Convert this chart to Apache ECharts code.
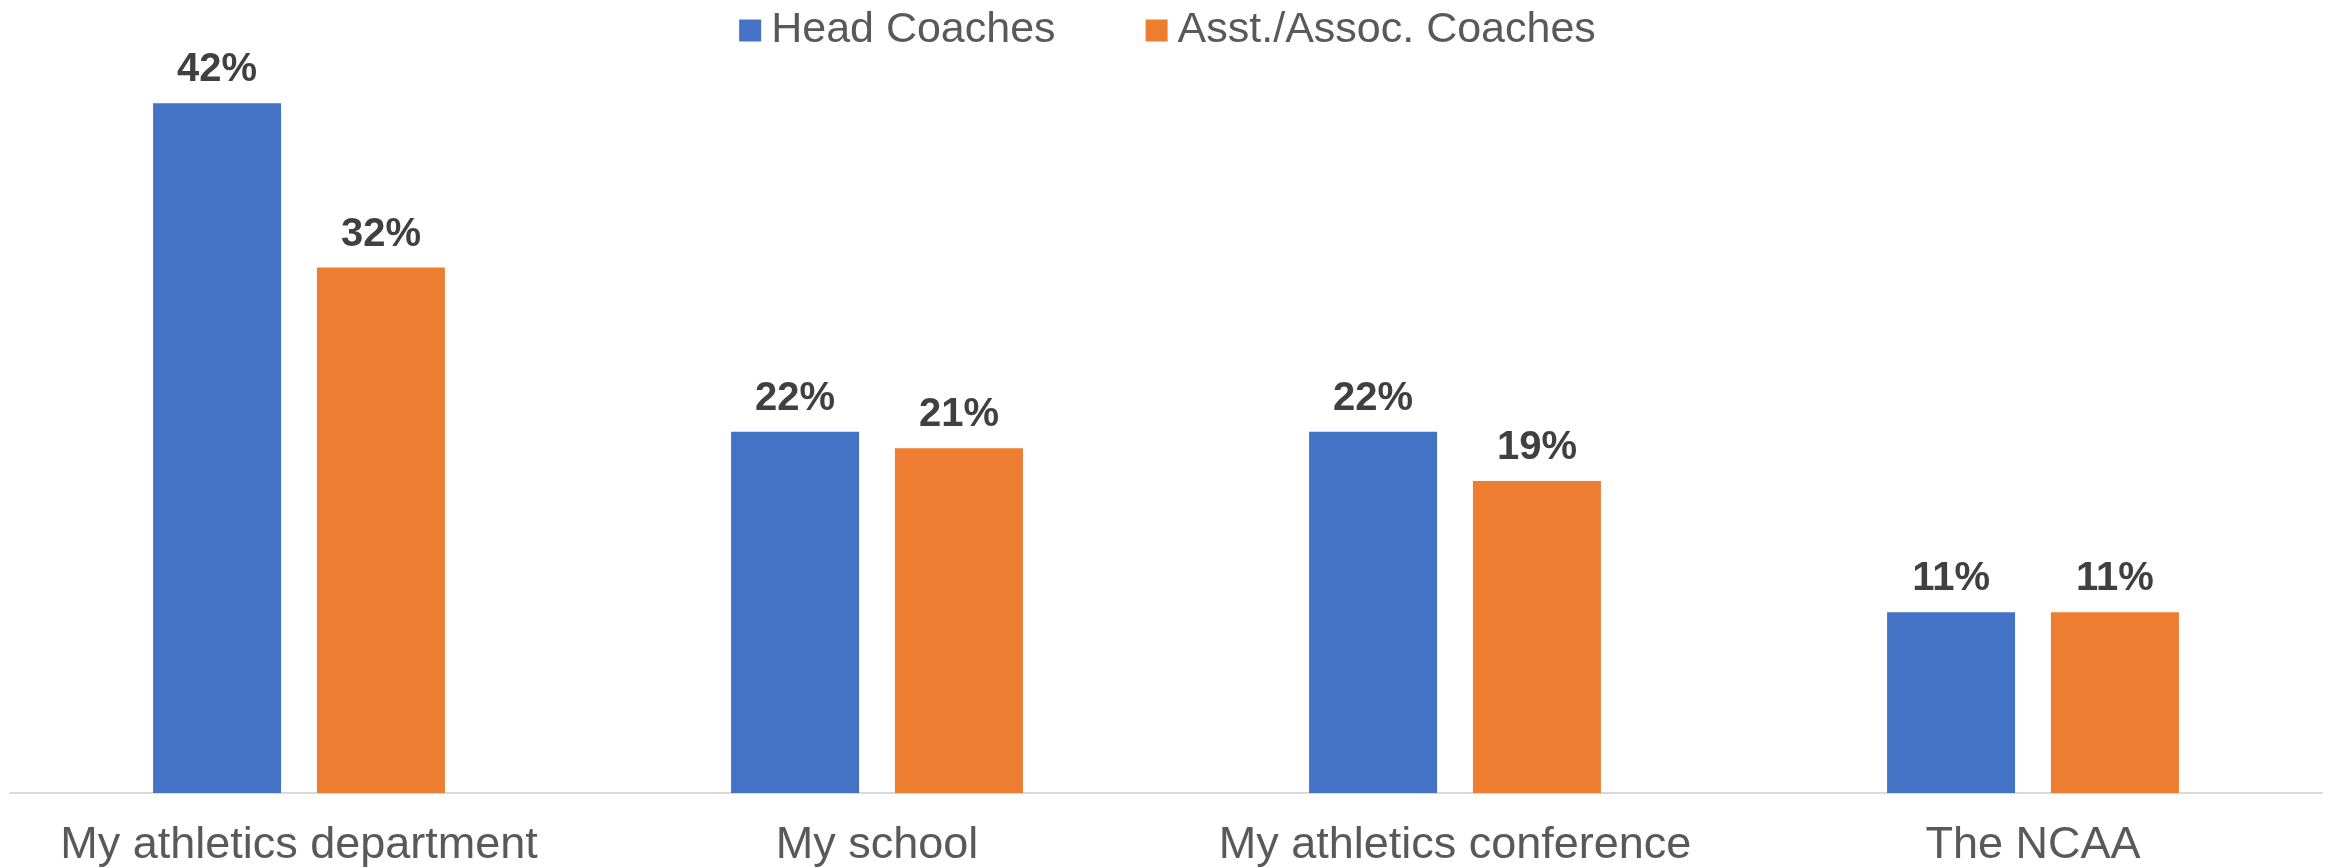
<!DOCTYPE html>
<html>
<head>
<meta charset="utf-8">
<script src="https://cdn.jsdelivr.net/npm/echarts@6/dist/echarts.min.js"></script>
<style>
  html, body { margin: 0; padding: 0; background: #fff; }
  #chart { width: 2335px; height: 868px; }
</style>
</head>
<body>
<div id="chart"></div>
<script>
const categories = ['My athletics department', 'My school', 'My athletics conference', 'The NCAA']
const headCoaches = [42, 22, 22, 11]
const asstCoaches = [32, 21, 19, 11]

const labelStyle = {
  show: true,
  position: 'top',
  distance: 13,
  formatter: '{c}%',
  color: '#404040',
  fontWeight: 'bold',
  fontSize: 40,
  fontFamily: 'Liberation Sans'
}

const chart = echarts.init(document.getElementById('chart'))
chart.setOption({
  animation: false,
  textStyle: { fontFamily: 'Liberation Sans' },
  legend: {
    top: 4,
    left: 'center',
    itemWidth: 22,
    itemHeight: 22,
    itemGap: 90,
    icon: 'rect',
    textStyle: { color: '#595959', fontSize: 43, padding: [0, 0, 0, 5] },
    data: ['Head Coaches', 'Asst./Assoc. Coaches']
  },
  grid: { left: 10, right: 13, top: 54, bottom: 74, containLabel: false },
  xAxis: {
    type: 'category',
    data: categories,
    axisLine: { lineStyle: { color: '#d9d9d9', width: 2 } },
    axisTick: { show: false },
    axisLabel: { color: '#595959', fontSize: 45, margin: 30, interval: 0, hideOverlap: false }
  },
  yAxis: {
    type: 'value',
    min: 0,
    max: 45,
    show: false,
    splitLine: { show: false }
  },
  series: [
    {
      name: 'Head Coaches',
      type: 'bar',
      data: headCoaches,
      barWidth: 128,
      barGap: '28%',
      itemStyle: { color: '#4472C4' },
      label: labelStyle
    },
    {
      name: 'Asst./Assoc. Coaches',
      type: 'bar',
      data: asstCoaches,
      barWidth: 128,
      itemStyle: { color: '#ED7D31' },
      label: labelStyle
    }
  ]
})
</script>
</body>
</html>
